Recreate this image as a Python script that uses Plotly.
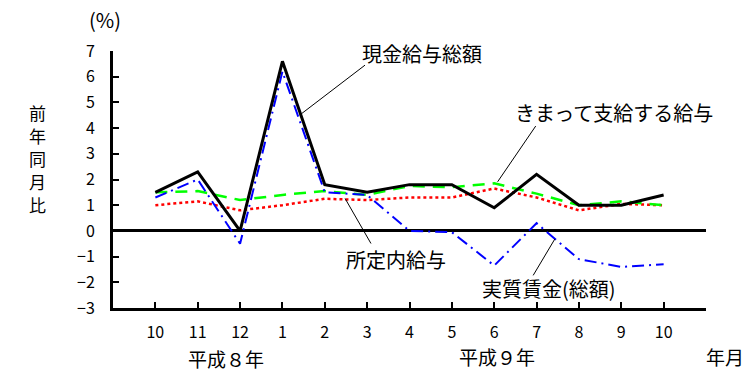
import plotly.graph_objects as go

months = ["10", "11", "12", "1", "2", "3", "4", "5", "6", "7", "8", "9", "10"]
genkin = [1.5, 2.3, 0.0, 6.6, 1.8, 1.5, 1.8, 1.8, 0.9, 2.2, 1.0, 1.0, 1.4]
kimatte = [1.5, 1.55, 1.2, 1.4, 1.55, 1.4, 1.75, 1.7, 1.85, 1.45, 1.0, 1.15, 1.0]
shoteinai = [1.0, 1.15, 0.8, 1.0, 1.25, 1.2, 1.3, 1.3, 1.65, 1.3, 0.8, 1.05, 1.0]
jisshitsu = [1.3, 2.0, -0.5, 6.2, 1.5, 1.4, 0.0, -0.05, -1.35, 0.3, -1.1, -1.4, -1.3]
yticks = [7, 6, 5, 4, 3, 2, 1, 0, -1, -2, -3]

FONT = "Noto Sans CJK JP"
xs = list(range(len(months)))

L, R, T, B = 113, 49, 51, 71
pw, ph = 755 - L - R, 379 - T - B

fig = go.Figure()
fig.add_trace(go.Scatter(x=xs, y=shoteinai, mode="lines", name="所定内給与",
                         line=dict(color="#ff0000", width=2.5, dash="dot")))
fig.add_trace(go.Scatter(x=xs, y=kimatte, mode="lines", name="きまって支給する給与",
                         line=dict(color="#00ff00", width=2.5, dash="12px,8px")))
fig.add_trace(go.Scatter(x=xs, y=jisshitsu, mode="lines", name="実質賃金(総額)",
                         line=dict(color="#0000ff", width=2, dash="12px,5px,2px,5px")))
fig.add_trace(go.Scatter(x=xs, y=genkin, mode="lines", name="現金給与総額",
                         line=dict(color="#000000", width=3)))

shapes = []
for (x0, y0, x1, y1) in [(4.95, 6.45, 3.41, 4.51), (8.98, 4.08, 8.08, 1.91),
                         (4.48, 1.26, 5.09, -0.49), (8.92, -1.73, 9.43, -0.32)]:
    shapes.append(dict(type="line", xref="x", yref="y", x0=x0, y0=y0, x1=x1, y1=y1,
                       line=dict(color="black", width=1)))

ann = []
def txt(x, y, t, size=20):
    ann.append(dict(x=x, y=y, xref="x", yref="y", text=t, showarrow=False,
                    xanchor="center", yanchor="middle", borderpad=0,
                    font=dict(family=FONT, size=size, color="black")))

def ptxt(px, py, t, size=19):
    ann.append(dict(x=(px - L) / pw, y=1 - (py - T) / ph, xref="paper", yref="paper",
                    text=t, showarrow=False, xanchor="center", yanchor="middle",
                    borderpad=0,
                    font=dict(family=FONT, size=size, color="black")))

txt(6.29, 6.91, "現金給与総額")
txt(10.82, 4.62, "きまって支給する給与")
txt(5.68, -1.10, "所定内給与")
txt(9.29, -2.23, "実質賃金(総額)")
ptxt(105, 19, "(%)", size=20)
ptxt(226, 358, "平成８年")
ptxt(497, 356, "平成９年")
ptxt(725, 356, "年月")
for i, ch in enumerate("前年同月比"):
    ptxt(37, 112 + i * 23, ch, size=17)

fig.update_layout(
    template="none",
    width=755, height=379,
    margin=dict(l=L, r=R, t=T, b=B, autoexpand=False),
    paper_bgcolor="white", plot_bgcolor="white",
    showlegend=False,
    shapes=shapes, annotations=ann,
    font=dict(family=FONT, color="black"),
    xaxis=dict(range=[-1, 13], tickvals=list(range(14)), ticktext=months + [""],
               automargin=False,
               showgrid=False, zeroline=False, showline=True, linecolor="black",
               linewidth=3, ticks="inside", ticklen=6, tickwidth=2, tickcolor="black",
               tickfont=dict(family=FONT, size=16), ticklabelstandoff=8),
    yaxis=dict(range=[-3, 7], tickvals=yticks,
               ticktext=[str(v).replace("-", "\u2212") for v in yticks],
               automargin=False,
               showgrid=False, zeroline=True, zerolinecolor="black", zerolinewidth=3,
               showline=True, linecolor="black", linewidth=3, ticks="inside",
               ticklen=6, tickwidth=2, tickcolor="black",
               tickfont=dict(family=FONT, size=16), ticklabelstandoff=12),
)
fig.write_html("out.html", config={"displayModeBar": False},
               post_script="document.body.style.margin='0';document.body.style.padding='0';")
